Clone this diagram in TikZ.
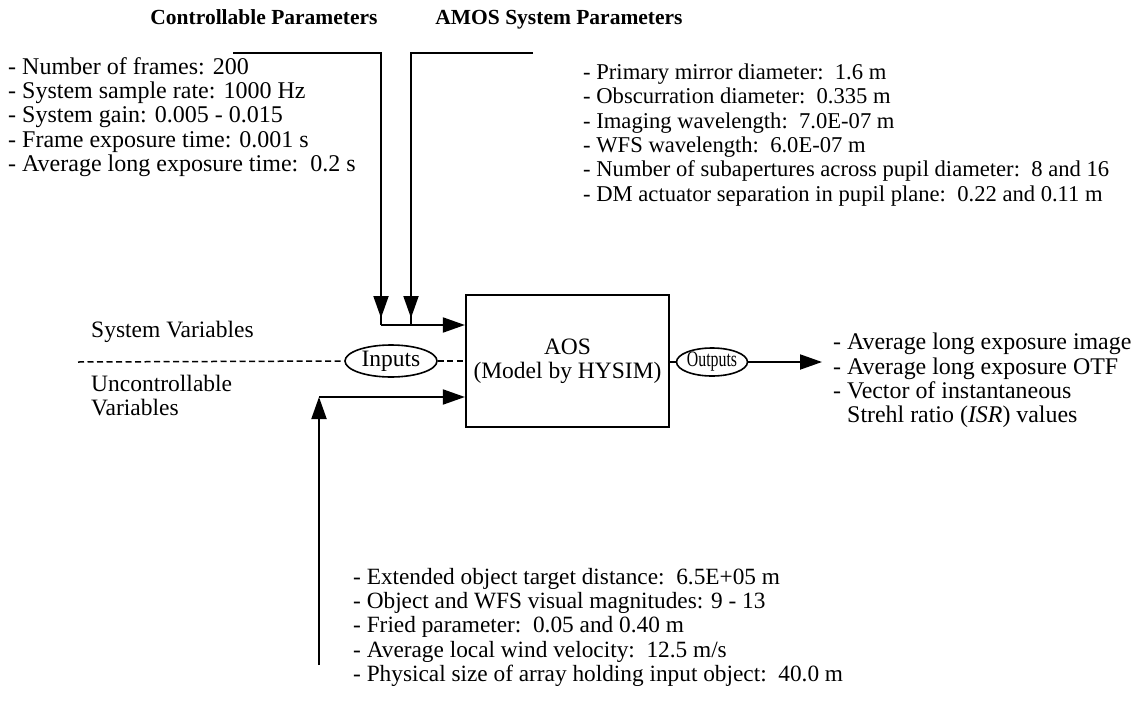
\documentclass[tikz,border=0pt]{standalone}
\usepackage{fontspec}
\setmainfont{Liberation Serif}
\usetikzlibrary{arrows.meta,shapes.geometric}
\begin{document}
\begin{tikzpicture}[x=1pt,y=-1pt,
  txt/.style={font=\fontsize{23.5}{24.3}\selectfont, inner sep=0pt, align=left, anchor=north west},
  lbl/.style={font=\fontsize{23.5}{24.3}\selectfont, inner sep=0pt},
  ttl/.style={font=\fontsize{21.5}{23}\selectfont\bfseries, inner sep=0pt, anchor=base},
  ln/.style={line width=1.9pt},
  arr/.style={ln, -{Triangle[length=22pt,width=15pt]}},
  dsh/.style={line width=1.5pt, dash pattern=on 6pt off 3.5pt},
  ]
\useasboundingbox (0,0) rectangle (1137,704);
% titles
\node[ttl] (t1) at (264,24) {Controllable Parameters};
\node[ttl] (t2) at (559,24) {AMOS System Parameters};
% lists
\node[txt, font=\fontsize{24}{24.3}\selectfont] (L) at (8,57) {- Number of frames: 200\\
- System sample rate: 1000 Hz\\
- System gain: 0.005 - 0.015\\
- Frame exposure time: 0.001 s\\
- Average long exposure time:\ \ 0.2 s};
\node[txt, font=\fontsize{22.6}{24.4}\selectfont] (R) at (583,63.5) {- Primary mirror diameter:\ \ 1.6 m\\
- Obscurration diameter:\ \ 0.335 m\\
- Imaging wavelength:\ \ 7.0E-07 m\\
- WFS wavelength:\ \ 6.0E-07 m\\
- Number of subapertures across pupil diameter:\ \ 8 and 16\\
- DM actuator separation in pupil plane:\ \ 0.22 and 0.11 m};
\node[txt, font=\fontsize{23.3}{24.3}\selectfont] (B) at (353,568) {- Extended object target distance:\ \ 6.5E+05 m\\
- Object and WFS visual magnitudes: 9 - 13\\
- Fried parameter:\ \ 0.05 and 0.40 m\\
- Average local wind velocity:\ \ 12.5 m/s\\
- Physical size of array holding input object:\ \ 40.0 m};
\node[txt, font=\fontsize{23.9}{24.3}\selectfont] (O) at (833,333) {- Average long exposure image\\
- Average long exposure OTF\\
- Vector of instantaneous\\
\hspace*{14pt}Strehl ratio (\textit{ISR}) values};
\node[lbl, anchor=base west] (sv) at (91,337) {System Variables};
\node[txt] (uv) at (91,375) {Uncontrollable\\Variables};
% central box
\node[draw, line width=2.2pt, minimum width=203, minimum height=132, align=center,
  font=\fontsize{23.5}{24.3}\selectfont] (aos) at (567.5,361) {AOS\\(Model by HYSIM)};
\node[draw, ellipse, line width=1.6pt, minimum width=92, minimum height=32, inner sep=0pt,
  font=\fontsize{23.5}{24.3}\selectfont] (in) at (391,361) {Inputs};
\node[draw, ellipse, line width=1.6pt, minimum width=54, minimum height=28, inner sep=0pt,
  font=\fontsize{22}{24.3}\selectfont] (out) at (712,362) {\scalebox{0.72}[1]{Outputs}};
% coordinates
\coordinate (c1s) at (233,53);
\coordinate (c1c) at (381,53);
\coordinate (a1) at (381,318);
\coordinate (j1) at (381,325);
\coordinate (c2s) at (533,53);
\coordinate (c2c) at (411,53);
\coordinate (a2) at (411,318);
\coordinate (j2) at (411,325);
\coordinate (b0) at (319,665);
\coordinate (j3) at (319,397);
\coordinate (d0) at (78,362);
\coordinate (oend) at (822,362);
% connectors
\draw[ln] (c1s) -- (c1c) -- (j1);
\draw[arr] (c1c) -- (a1);
\draw[ln] (c2s) -- (c2c) -- (j2);
\draw[arr] (c2c) -- (a2);
\draw[arr] (j1) -- (aos.west |- j1);
\draw[arr] (b0) -- (j3);
\draw[arr] (j3) -- (aos.west |- j3);
\draw[dsh] (d0) -- (in.west);
\draw[dsh] (in.east) -- (aos.west |- in.east);
\draw[ln] (aos.east |- out.west) -- (out.west);
\draw[arr] (out.east) -- (oend);
\end{tikzpicture}
\end{document}
